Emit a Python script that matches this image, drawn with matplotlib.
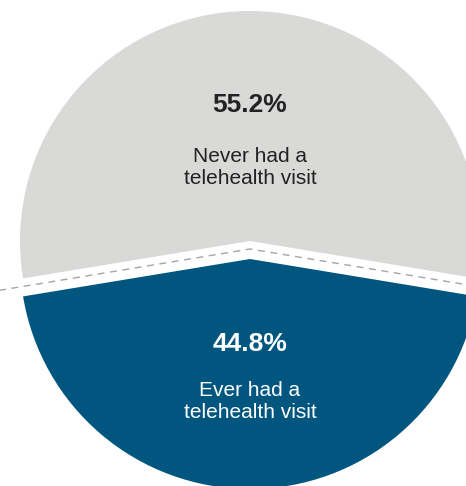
import numpy as np
import matplotlib
matplotlib.use("Agg")
import matplotlib.pyplot as plt

# data
labels = ["Never had a\ntelehealth visit", "Ever had a\ntelehealth visit"]
shares = [55.2, 44.8]
colors = ["#d9d9d8", "#01567f"]
text_colors = ["#222222", "#ffffff"]

plt.rcParams["font.family"] = ["Liberation Sans", "DejaVu Sans"]

W, H = 466, 486
fig = plt.figure(figsize=(W / 100, H / 100), dpi=100)
ax = fig.add_axes([0, 0, 1, 1])

cx, cy = 250, H - 249
radius = 230
# grey slice centred on the top
start = 90 - shares[0] / 100 * 360 / 2

# explode is in data units here (pixels)
wedges, _ = ax.pie(shares, colors=colors, startangle=start, counterclock=True,
                   center=(cx, cy), radius=radius, explode=[8, 10],
                   frame=True, wedgeprops=dict(linewidth=0))

# dashed boundary of the unexploded pie
a1 = np.deg2rad(start)
a2 = np.deg2rad(start + shares[0] / 100 * 360)
L = 400
ax.plot([cx + L * np.cos(a2), cx, cx + L * np.cos(a1)],
        [cy + L * np.sin(a2), cy, cy + L * np.sin(a1)],
        color="#a9a2a8", lw=1.0, dashes=(5, 4), zorder=3)

# labels
ax.text(cx, H - 105, f"{shares[0]:.1f}%", ha="center", va="center",
        fontsize=19, fontweight="bold", color=text_colors[0])
ax.text(cx, H - 168, labels[0], ha="center", va="center",
        fontsize=15, color=text_colors[0], linespacing=1.2)
ax.text(cx, H - 344, f"{shares[1]:.1f}%", ha="center", va="center",
        fontsize=19, fontweight="bold", color=text_colors[1])
ax.text(cx, H - 402, labels[1], ha="center", va="center",
        fontsize=15, color=text_colors[1], linespacing=1.2)

ax.set_xlim(0, W)
ax.set_ylim(0, H)
ax.axis("off")

plt.savefig("out.png", dpi=100)
plt.close()
